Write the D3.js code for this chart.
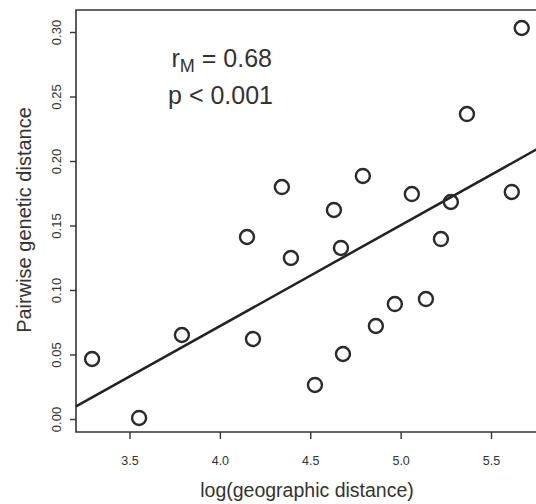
<!DOCTYPE html>
<html lang="en">
<head>
  <meta charset="UTF-8">
  <title>Mantel plot</title>
  <script src="https://cdn.jsdelivr.net/npm/d3@7/dist/d3.min.js"></script>
  <style>
    body { margin: 0; background: #fff; }
    text { font-family: "Liberation Sans", Arial, sans-serif; fill: #333; }
  </style>
</head>
<body>
  <script>
    // data
    var logDist = [3.293, 3.553, 3.790, 4.150, 4.183, 4.343, 4.393, 4.526, 4.631, 4.670, 4.681,
                   4.791, 4.863, 4.968, 5.062, 5.140, 5.223, 5.278, 5.367, 5.615, 5.670];
    var genDist = [0.0465, 0.0008, 0.0651, 0.1411, 0.0620, 0.1798, 0.1248, 0.0264, 0.1620, 0.1326, 0.0504,
                   0.1884, 0.0721, 0.0891, 0.1744, 0.0930, 0.1395, 0.1682, 0.2364, 0.1760, 0.3031];
    var xTicks = [3.5, 4.0, 4.5, 5.0, 5.5];
    var yTicks = [0.00, 0.05, 0.10, 0.15, 0.20, 0.25, 0.30];
    var fitIntercept = -0.2408;
    var fitSlope = 0.0782;

    var W = 536, H = 504;
    // plot box edges (note: "top" is reserved on window, so use other names)
    var boxL = 76, boxR = 537, boxT = 10, boxB = 432;

    var svg = d3.select("body").append("svg")
      .attr("width", W).attr("height", H);

    var x = d3.scaleLinear().domain([3.5, 5.5]).range([129.5, 491]);
    var y = d3.scaleLinear().domain([0, 0.3]).range([419, 32]);

    // box (right side runs off the page)
    svg.append("path")
      .attr("d", "M" + boxR + "," + boxT + "H" + boxL + "V" + boxB + "H" + boxR)
      .attr("fill", "none")
      .attr("stroke", "#333")
      .attr("stroke-width", 1.6);

    // x axis ticks + labels
    var axisX = d3.axisBottom(x).tickValues(xTicks).tickFormat(d3.format(".1f"))
      .tickSize(7).tickSizeOuter(0);
    var gx = svg.append("g").attr("transform", "translate(0," + boxB + ")").call(axisX);
    gx.select(".domain").remove();
    gx.selectAll("line").attr("stroke", "#333").attr("stroke-width", 1.4);
    gx.selectAll("text")
      .attr("y", 0).attr("dy", null)
      .attr("transform", "translate(0,33)")
      .style("font-size", "12.5px")
      .style("font-family", "Liberation Sans, Arial, sans-serif")
      .attr("fill", "#333");

    // y axis ticks + rotated labels
    var axisY = d3.axisLeft(y).tickValues(yTicks).tickFormat(d3.format(".2f"))
      .tickSize(6).tickSizeOuter(0);
    var gy = svg.append("g").attr("transform", "translate(" + boxL + ",0)").call(axisY);
    gy.select(".domain").remove();
    gy.selectAll("line").attr("stroke", "#333").attr("stroke-width", 1.4);
    gy.selectAll("text")
      .attr("x", 0).attr("dy", null)
      .attr("text-anchor", "middle")
      .attr("transform", "translate(-15,0) rotate(-90)")
      .style("font-size", "13px")
      .style("font-family", "Liberation Sans, Arial, sans-serif")
      .attr("fill", "#333");

    // regression line
    var x0 = x.invert(boxL), x1 = x.invert(boxR);
    svg.append("line")
      .attr("x1", x(x0)).attr("y1", y(fitIntercept + fitSlope * x0))
      .attr("x2", x(x1)).attr("y2", y(fitIntercept + fitSlope * x1))
      .attr("stroke", "#222")
      .attr("stroke-width", 2.5);

    // points
    svg.selectAll("circle.pt")
      .data(d3.zip(logDist, genDist))
      .enter()
      .append("circle")
      .attr("class", "pt")
      .attr("cx", d => x(d[0]))
      .attr("cy", d => y(d[1]))
      .attr("r", 7)
      .attr("fill", "none")
      .attr("stroke", "#2a2a2a")
      .attr("stroke-width", 2.4);

    // stats annotation
    var stat1 = svg.append("text")
      .attr("x", 272).attr("y", 67)
      .attr("text-anchor", "end")
      .style("font-size", "25px");
    stat1.append("tspan").text("r");
    stat1.append("tspan").attr("dy", 5).style("font-size", "18px").text("M");
    stat1.append("tspan").attr("dy", -5).text(" = 0.68");

    svg.append("text")
      .attr("x", 273).attr("y", 104)
      .attr("text-anchor", "end")
      .style("font-size", "25px")
      .text("p < 0.001");

    // axis titles
    svg.append("text")
      .attr("x", 307).attr("y", 497)
      .attr("text-anchor", "middle")
      .style("font-size", "19.5px")
      .text("log(geographic distance)");

    svg.append("text")
      .attr("transform", "translate(31,220) rotate(-90)")
      .attr("text-anchor", "middle")
      .style("font-size", "20px")
      .text("Pairwise genetic distance");
  </script>
</body>
</html>
